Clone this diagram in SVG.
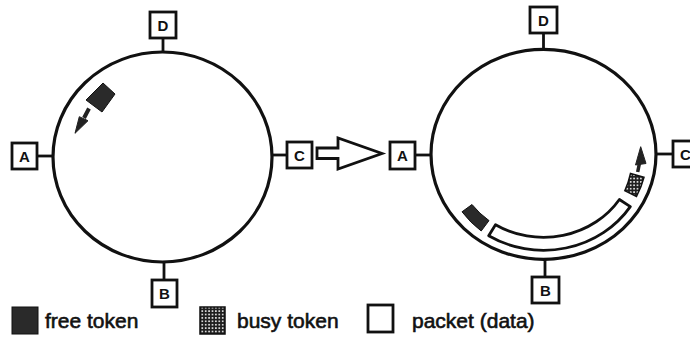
<svg xmlns="http://www.w3.org/2000/svg" width="690" height="338" viewBox="0 0 690 338">
  <defs>
    <pattern id="dots" width="3.4" height="3.4" patternUnits="userSpaceOnUse">
      <rect width="3.4" height="3.4" fill="#1e1e1e"/>
      <circle cx="1.7" cy="1.7" r="0.95" fill="#ffffff"/>
    </pattern>
    <style>
      .ring { fill: none; stroke: #111; stroke-width: 3.2; }
      .box { fill: #fff; stroke: #111; stroke-width: 2.8; }
      .tick { stroke: #111; stroke-width: 2.8; fill: none; }
      .lbl { font-family: "Liberation Sans", Arial, sans-serif; font-size: 15px; font-weight: bold; fill: #111; text-anchor: middle; }
      .leg { font-family: "Liberation Sans", Arial, sans-serif; font-size: 21px; fill: #111; stroke: #111; stroke-width: 0.6; }
      .free { fill: #2a2a2a; stroke: #111; stroke-width: 1; }
      .busy { fill: url(#dots); stroke: #111; stroke-width: 1.5; }
      .packet { fill: #fff; stroke: #111; stroke-width: 2.8; stroke-linejoin: round; }
      .arr { fill: #222; stroke: #222; stroke-width: 1; }
    </style>
  </defs>

  <!-- Left ring -->
  <g id="ring-left">
    <ellipse class="ring" cx="162.5" cy="157" rx="109.5" ry="105"/>
    <polygon class="free" points="103,83 115,94 102,112 86,100"/>
    <line x1="89" y1="108.5" x2="84" y2="118" stroke="#222" stroke-width="4"/>
    <polygon class="arr" points="79.3,116.7 88,120.7 75,133.3"/>
  </g>

  <!-- Right ring -->
  <g id="ring-right">
    <ellipse class="ring" cx="543.5" cy="154.3" rx="112.5" ry="105"/>
    <path class="packet" d="M 630.3 206.6 A 103.5 96 0 0 1 488.7 235.7 L 495.5 224.7 A 90.5 83 0 0 0 619.4 199.5 Z"/>
    <path class="free" d="M 481.2 231 A 103.5 96 0 0 1 462 211.8 L 472 204.5 A 90.5 83 0 0 0 489 220.6 Z"/>
    <path class="busy" d="M 644 177.2 A 103.5 96 0 0 1 636.5 196.4 L 624.8 190.7 A 90.5 83 0 0 0 630.5 173.5 Z"/>
    <line x1="637.7" y1="172" x2="639.5" y2="163" stroke="#222" stroke-width="3.5"/>
    <polygon class="arr" points="635.5,165 646,163.5 640.7,146.7"/>
  </g>

  <!-- Connectors -->
  <g id="connectors">
    <line class="tick" x1="163" y1="38" x2="163" y2="52"/>
    <line class="tick" x1="37" y1="156" x2="53" y2="156"/>
    <line class="tick" x1="272" y1="155" x2="287" y2="155"/>
    <line class="tick" x1="164" y1="262" x2="164" y2="280"/>
    <line class="tick" x1="543.5" y1="33" x2="543.5" y2="49.5"/>
    <line class="tick" x1="415" y1="155" x2="431" y2="155"/>
    <line class="tick" x1="656" y1="154" x2="673" y2="154"/>
    <line class="tick" x1="545" y1="259" x2="545" y2="277"/>
    <polygon class="box" points="317,148 338,148 338,138 382,153.5 338,169 338,158.5 317,158.5"/>
  </g>

  <!-- Left stations -->
  <g id="left-D"><rect class="box" x="150" y="12" width="26" height="26"/><text class="lbl" x="163" y="30.5">D</text></g>
  <g id="left-A"><rect class="box" x="12" y="143" width="25" height="26"/><text class="lbl" x="24.5" y="161.5">A</text></g>
  <g id="left-C"><rect class="box" x="287" y="142" width="25" height="26"/><text class="lbl" x="299.5" y="160.5">C</text></g>
  <g id="left-B"><rect class="box" x="152" y="280" width="25" height="27"/><text class="lbl" x="164.5" y="299">B</text></g>

  <!-- Right stations -->
  <g id="right-D"><rect class="box" x="530" y="7" width="27" height="26"/><text class="lbl" x="543.5" y="25.5">D</text></g>
  <g id="right-A"><rect class="box" x="390" y="142" width="25" height="27"/><text class="lbl" x="402.5" y="161">A</text></g>
  <g id="right-C"><rect class="box" x="673" y="141" width="25" height="26"/><text class="lbl" x="685.5" y="159.5">C</text></g>
  <g id="right-B"><rect class="box" x="532" y="277" width="27" height="26"/><text class="lbl" x="545.5" y="295.5">B</text></g>

  <!-- Legend -->
  <g id="legend-free"><rect x="12" y="307" width="26" height="27" fill="#2a2a2a" stroke="#111" stroke-width="1"/><text class="leg" x="45" y="328">free token</text></g>
  <g id="legend-busy"><rect x="200" y="307" width="25" height="27" fill="url(#dots)" stroke="#111" stroke-width="1.5"/><text class="leg" x="237" y="328">busy token</text></g>
  <g id="legend-packet"><rect class="box" x="368" y="305" width="25" height="27"/><text class="leg" x="412" y="328">packet (data)</text></g>
</svg>
